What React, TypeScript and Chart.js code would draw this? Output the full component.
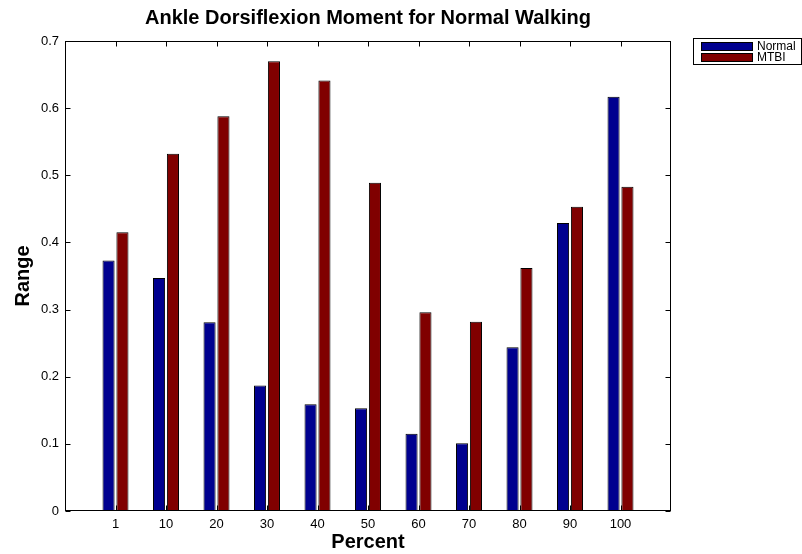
import React, { useEffect, useRef } from 'react';
import { Chart, registerables } from 'chart.js';

Chart.register(...registerables);

const categories = ['1', '10', '20', '30', '40', '50', '60', '70', '80', '90', '100'];
const normalValues = [0.373, 0.347, 0.281, 0.187, 0.159, 0.153, 0.115, 0.101, 0.244, 0.429, 0.617];
const mtbiValues = [0.415, 0.532, 0.588, 0.670, 0.641, 0.489, 0.296, 0.282, 0.362, 0.453, 0.483];
const seriesNames = ['Normal', 'MTBI'];
const seriesColors = ['#00008F', '#800000'];
const titleText = 'Ankle Dorsiflexion Moment for Normal Walking';
const xTitle = 'Percent';
const yTitle = 'Range';

const FONT = "'Liberation Sans', Arial, Helvetica, sans-serif";

const framePlugin = {
  id: 'matlabFrame',
  afterDraw(chart: any) {
    const { ctx, chartArea } = chart;
    const { left, right, top, bottom } = chartArea;
    const xs = chart.scales.x;
    const ys = chart.scales.y;
    ctx.save();
    ctx.strokeStyle = '#000';
    ctx.lineWidth = 1;
    const L = Math.round(left) + 0.5;
    const R = Math.round(right) - 0.5;
    const T = Math.round(top) + 0.5;
    const B = Math.round(bottom) - 0.5;
    ctx.strokeRect(L, T, R - L, B - T);
    ctx.beginPath();
    ys.ticks.forEach((t: any) => {
      const py = Math.round(ys.getPixelForValue(t.value)) + 0.5;
      ctx.moveTo(L, py);
      ctx.lineTo(L + 5, py);
      ctx.moveTo(R, py);
      ctx.lineTo(R - 5, py);
    });
    categories.forEach((_, i) => {
      const px = Math.round(xs.getPixelForValue(i + 1)) + 0.5;
      ctx.moveTo(px, B);
      ctx.lineTo(px, B - 5);
      ctx.moveTo(px, T);
      ctx.lineTo(px, T + 5);
    });
    ctx.stroke();

    // legend
    const bx = 693.5, by = 38.5, bw = 108, bh = 26;
    ctx.fillStyle = '#fff';
    ctx.fillRect(bx, by, bw, bh);
    ctx.strokeRect(bx, by, bw, bh);
    ctx.font = `12px ${FONT}`;
    ctx.textBaseline = 'middle';
    ctx.textAlign = 'left';
    seriesNames.forEach((name, i) => {
      const sy = 42 + i * 11;
      ctx.fillStyle = seriesColors[i];
      ctx.fillRect(701, sy, 52, 9);
      ctx.strokeStyle = '#000';
      ctx.strokeRect(701.5, sy + 0.5, 51, 8);
      ctx.fillStyle = '#000';
      ctx.fillText(name, 757, sy + 5);
    });
    ctx.restore();
  },
};

export default function App() {
  const ref = useRef<HTMLCanvasElement>(null);
  useEffect(() => {
    if (!ref.current) return;
    const chart = new Chart(ref.current, {
      type: 'bar',
      data: {
        datasets: [
          {
            label: seriesNames[0],
            data: categories.map((_, i) => ({ x: i + 1, y: normalValues[i] })),
            backgroundColor: seriesColors[0],
            borderColor: '#000',
            borderWidth: 1,
          },
          {
            label: seriesNames[1],
            data: categories.map((_, i) => ({ x: i + 1, y: mtbiValues[i] })),
            backgroundColor: seriesColors[1],
            borderColor: '#000',
            borderWidth: 1,
          },
        ],
      },
      options: {
        responsive: false,
        animation: false,
        layout: { padding: { top: 0, left: 0, right: 131, bottom: 0 } },
        datasets: { bar: { categoryPercentage: 0.55, barPercentage: 0.87 } },
        plugins: {
          legend: { display: false },
          tooltip: { enabled: false },
          title: {
            display: true,
            text: titleText,
            fullSize: false,
            color: '#000',
            font: { family: FONT, size: 20, weight: 'bold' },
            padding: { top: 6, bottom: 11 },
          },
        },
        scales: {
          x: {
            type: 'linear',
            offset: false,
            min: 0,
            max: 12,
            grid: { display: false, drawTicks: false, offset: false },
            border: { display: false },
            ticks: {
              stepSize: 1,
              autoSkip: false,
              maxRotation: 0,
              padding: 6,
              color: '#000',
              font: { family: FONT, size: 13 },
              callback: (v: any) => {
                const i = Math.round(Number(v));
                return i >= 1 && i <= categories.length ? categories[i - 1] : '';
              },
            },
            title: {
              display: true,
              text: xTitle,
              color: '#000',
              font: { family: FONT, size: 20, weight: 'bold' },
              padding: { top: 0, bottom: 0 },
            },
            afterFit: (s: any) => {
              s.height = 43;
            },
          },
          y: {
            min: 0,
            max: 0.7,
            grid: { display: false, drawTicks: false },
            border: { display: false },
            ticks: {
              stepSize: 0.1,
              padding: 6,
              color: '#000',
              font: { family: FONT, size: 13 },
              callback: (v: any) => String(Math.round(Number(v) * 10) / 10),
            },
            title: {
              display: true,
              text: yTitle,
              color: '#000',
              font: { family: FONT, size: 20, weight: 'bold' },
              padding: { top: 11, bottom: 0 },
            },
            afterFit: (s: any) => {
              s.width = 65;
            },
          },
        },
      },
      plugins: [framePlugin],
    });
    return () => chart.destroy();
  }, []);
  return (
    <canvas
      ref={ref}
      width={802}
      height={554}
      style={{ position: 'absolute', left: 0, top: 0, display: 'block', background: '#fff' }}
    />
  );
}
